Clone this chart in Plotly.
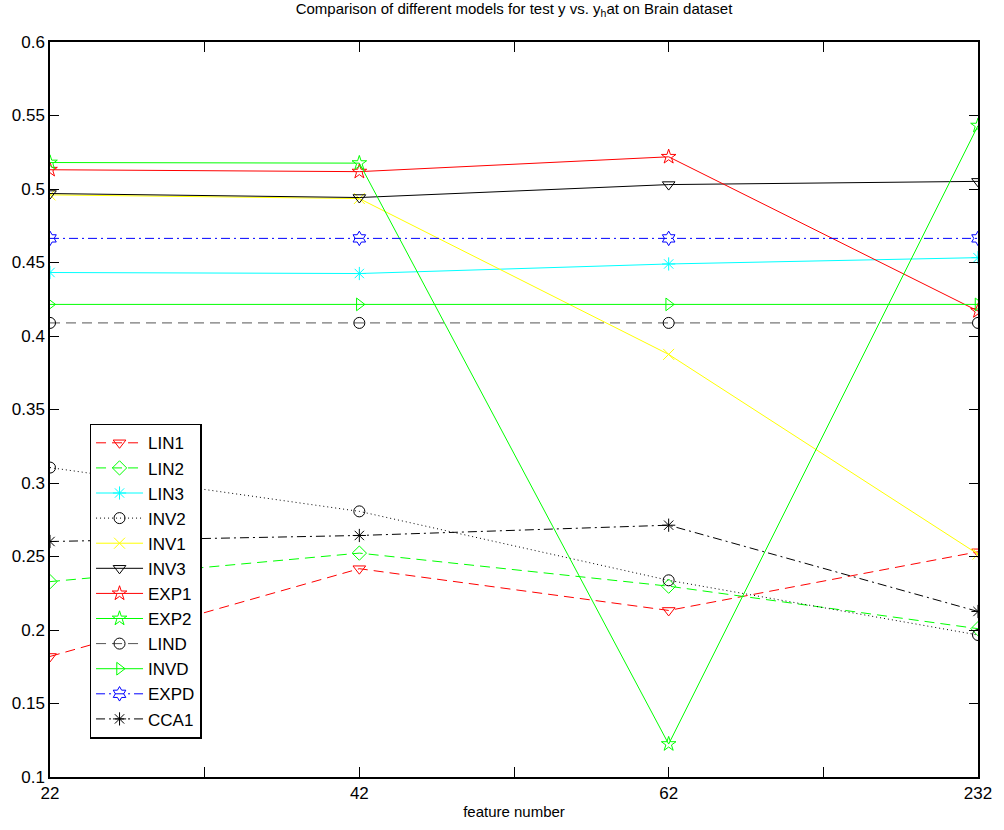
import plotly.graph_objects as go

# feature counts on the x axis (plotted at equal spacing)
feature_labels = ["22", "42", "62", "232"]
positions = [1, 2, 3, 4]
y_ticks = [0.1, 0.15, 0.2, 0.25, 0.3, 0.35, 0.4, 0.45, 0.5, 0.55, 0.6]
y_tick_labels = ["0.1", "0.15", "0.2", "0.25", "0.3", "0.35", "0.4", "0.45", "0.5", "0.55", "0.6"]

# correlation values per model
lin1 = [0.182, 0.2417, 0.2133, 0.2532]
lin2 = [0.2329, 0.2523, 0.2298, 0.2009]
lin3 = [0.4432, 0.4425, 0.449, 0.4533]
inv2 = [0.3105, 0.2807, 0.2338, 0.1966]
inv1 = [0.496, 0.4935, 0.3875, 0.2516]
inv3 = [0.4969, 0.4942, 0.503, 0.5052]
exp1 = [0.5131, 0.5118, 0.5219, 0.417]
exp2 = [0.518, 0.5176, 0.1224, 0.5431]
lind = [0.4089, 0.4089, 0.4089, 0.4089]
invd = [0.4215, 0.4215, 0.4215, 0.4215]
expd = [0.4664, 0.4664, 0.4664, 0.4664]
cca1 = [0.2602, 0.2643, 0.2713, 0.2126]

DASH = "10px,6px"
DOT = "1px,3px"
DASHDOT = "9px,4px,2px,4px"

series = [
    ("LIN1", lin1, "#ff0000", DASH, "triangle-down-open"),
    ("LIN2", lin2, "#00ff00", DASH, "diamond-open"),
    ("LIN3", lin3, "#00ffff", "solid", "asterisk-open"),
    ("INV2", inv2, "#000000", DOT, "circle-open"),
    ("INV1", inv1, "#ffff00", "solid", "x-thin-open"),
    ("INV3", inv3, "#000000", "solid", "triangle-down-open"),
    ("EXP1", exp1, "#ff0000", "solid", "star-open"),
    ("EXP2", exp2, "#00ff00", "solid", "star-open"),
    ("LIND", lind, "#555555", DASH, "circle-open"),
    ("INVD", invd, "#00ff00", "solid", "triangle-right-open"),
    ("EXPD", expd, "#0000ff", DASHDOT, "hexagram-open"),
    ("CCA1", cca1, "#000000", DASHDOT, "asterisk-open"),
]

fig = go.Figure()
for name, vals, color, dash, symbol in series:
    mcolor = "#000000" if name == "LIND" else color
    fig.add_trace(go.Scatter(
        x=positions, y=vals, name=name, mode="lines+markers",
        line=dict(color=color, width=1, dash=dash),
        marker=dict(symbol=symbol, size=11, color=mcolor,
                    line=dict(color=mcolor, width=1)),
    ))

font_family = "Liberation Sans, Arial, sans-serif"

fig.update_layout(
    width=1004, height=830,
    margin=dict(l=47, r=18, t=42, b=49),
    paper_bgcolor="white", plot_bgcolor="white",
    font=dict(family=font_family, color="black", size=16),
    title=dict(
        text="Comparison of different models for test y vs. y<sub>h</sub>at on Brain dataset",
        x=0.5, xref="paper", xanchor="center",
        y=1 - 3 / 830, yref="container", yanchor="top",
        font=dict(size=15, family=font_family, color="black"),
    ),
    showlegend=True,
    legend=dict(
        x=0.0426, y=0.4806, xanchor="left", yanchor="top",
        bgcolor="white", bordercolor="black", borderwidth=1.5,
        font=dict(size=17, family=font_family, color="black"),
        itemwidth=47,
    ),
)

fig.update_xaxes(
    range=[1, 4],
    tickmode="array",
    tickvals=positions,
    ticktext=feature_labels,
    ticks="inside", ticklen=10, tickwidth=1, tickcolor="black",
    minor=dict(tickmode="array", tickvals=[1.5, 2.5, 3.5], ticks="inside",
               ticklen=10, tickwidth=1, tickcolor="black", showgrid=False),
    showline=True, linecolor="black", linewidth=1.5, mirror="allticks",
    showgrid=False, zeroline=False,
    tickfont=dict(size=17),
    title=dict(text="feature number", font=dict(size=15), standoff=4),
)
fig.update_yaxes(
    range=[0.1, 0.6],
    tickmode="array",
    tickvals=y_ticks,
    ticktext=y_tick_labels,
    ticks="inside", ticklen=9, tickwidth=1, tickcolor="black",
    showline=True, linecolor="black", linewidth=1.5, mirror="allticks",
    showgrid=False, zeroline=False,
    tickfont=dict(size=17),
)

fig.write_html("out.html")
